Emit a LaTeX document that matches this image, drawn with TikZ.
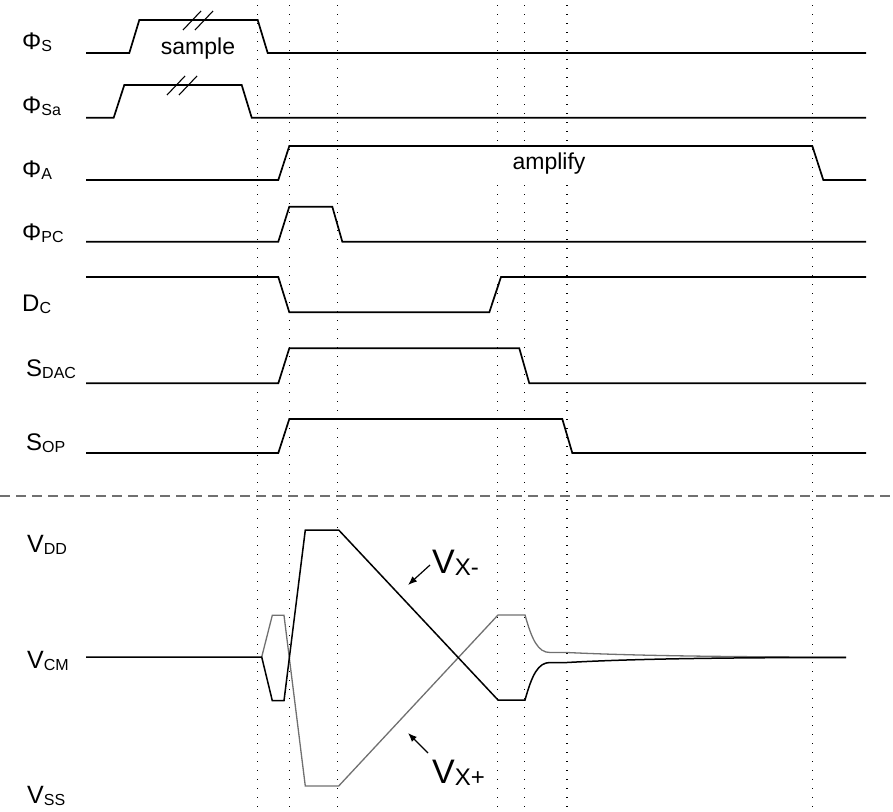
\documentclass[tikz,border=0pt]{standalone}
\usepackage{fontspec}
\setmainfont{Liberation Sans}
\usetikzlibrary{arrows.meta}
% lowered, smaller index text for signal names
\newcommand\lsub[2][16]{\raisebox{-2.5pt}{\fontsize{#1}{#1}\selectfont #2}}
\definecolor{tracegray}{RGB}{112,112,112}
\begin{document}
\begin{tikzpicture}[x=1pt,y=-1pt,
  wave/.style={line width=1.7pt, line join=miter},
  brk/.style={line width=1.1pt},
  guide/.style={line width=1.2pt, dash pattern=on 1.1pt off 7.9pt},
  sep/.style={draw=tracegray, line width=1.1pt, dash pattern=on 10pt off 6pt},
  sig/.style={inner sep=0pt, anchor=base west, font=\fontsize{24}{24}\selectfont},
  lvl/.style={inner sep=0pt, anchor=base west, font=\fontsize{25}{25}\selectfont},
  note/.style={inner sep=0pt, anchor=base, font=\fontsize{23}{23}\selectfont},
  big/.style={inner sep=0pt, anchor=base west, font=\fontsize{34}{34}\selectfont},
  pointer/.style={-{Latex[length=9pt,width=7pt]}, line width=1.2pt},
  vneg/.style={line width=1.5pt},
  vpos/.style={draw=tracegray, line width=1.3pt}
]
\useasboundingbox (0,0) rectangle (893,811);

% timing guides
\foreach \gx in {257.5,289.3,337.3,497.7,524.3,567,812.5}
  \draw[guide] (\gx,5) -- (\gx,807);

% signal names
\node[sig] (nphis)  at (22,49)    {Φ\lsub{S}};
\node[sig] (nphisa) at (22,113)   {Φ\lsub{Sa}};
\node[sig] (nphia)  at (22,177)   {Φ\lsub{A}};
\node[sig] (nphipc) at (22,240)   {Φ\lsub{PC}};
\node[sig] (ndc)    at (22,311)   {D\lsub{C}};
\node[sig] (nsdac)  at (26,376)   {S\lsub{DAC}};
\node[sig] (nsop)   at (26,450)   {S\lsub{OP}};

% digital waveforms
\draw[wave] (86,53) -- (129.3,53) -- (139.3,20) -- (257.7,20) -- (267.7,53) -- (866,53);
\draw[wave] (86,117.7) -- (113.7,117.7) -- (124.3,85) -- (241.7,85) -- (251.7,117.7) -- (866,117.7);
\draw[wave] (86,180) -- (278.3,180) -- (289.3,146) -- (812.3,146) -- (823.3,180) -- (866,180);
\draw[wave] (86,241.7) -- (278.3,241.7) -- (289.3,206.7) -- (332.3,206.7) -- (342.3,241.7) -- (866,241.7);
\draw[wave] (86,277) -- (278.3,277) -- (289.3,312.3) -- (489.3,312.3) -- (501,277) -- (866,277);
\draw[wave] (86,383.3) -- (278.3,383.3) -- (289.3,348.3) -- (519.3,348.3) -- (529.3,383.3) -- (866,383.3);
\draw[wave] (86,453) -- (278.3,453) -- (289.3,419) -- (562.3,419) -- (572.3,453) -- (866,453);

% time-break marks on the sampling pulses
\draw[brk] (183,30) -- (201,11);
\draw[brk] (195,30) -- (213,11);
\draw[brk] (167,95) -- (185,76);
\draw[brk] (179,95) -- (197,76);

% phase names (the amplify label masks the guides behind it)
\fill[white] (494,149) rectangle (602,178);
\node[note] (tsample)  at (198,54)  {sample};
\node[note] (tamplify) at (549,169) {amplify};

% digital / analog separator
\draw[sep] (0,496) -- (893,496);

% supply levels
\node[lvl] (nvdd) at (27,552) {V\lsub[16]{DD}};
\node[lvl] (nvcm) at (27,668) {V\lsub[16]{CM}};
\node[lvl] (nvss) at (27,803) {V\lsub[16]{SS}};

% node voltages
\draw[vpos] (261.7,657) -- (272.3,615.3) -- (284,615.3) -- (305.3,786) -- (338.7,786) -- (498,615) -- (525,615)
  .. controls (532,640) and (538,652.5) .. (550,652.5) -- (567,652.5)
  .. controls (620,655) and (700,657) .. (846,657);
\draw[vneg] (86,657) -- (261.7,657) -- (272.3,700.7) -- (284,700.7) -- (305.3,530) -- (338.7,530) -- (498,700) -- (525,700)
  .. controls (532,675) and (538,662.5) .. (550,662.5) -- (567,662.5)
  .. controls (620,659.5) and (700,657.5) .. (846,657.5);

% trace names with pointers
\node[big] (nvxm) at (432,573) {V\lsub[24]{X-}};
\node[big] (nvxp) at (432,783) {V\lsub[24]{X+}};
\coordinate (vxmfrom) at (430,565);
\coordinate (vxmto)   at (408,585);
\coordinate (vxpfrom) at (428,753);
\coordinate (vxpto)   at (408,733);
\draw[pointer] (vxmfrom) -- (vxmto);
\draw[pointer] (vxpfrom) -- (vxpto);
\end{tikzpicture}
\end{document}
